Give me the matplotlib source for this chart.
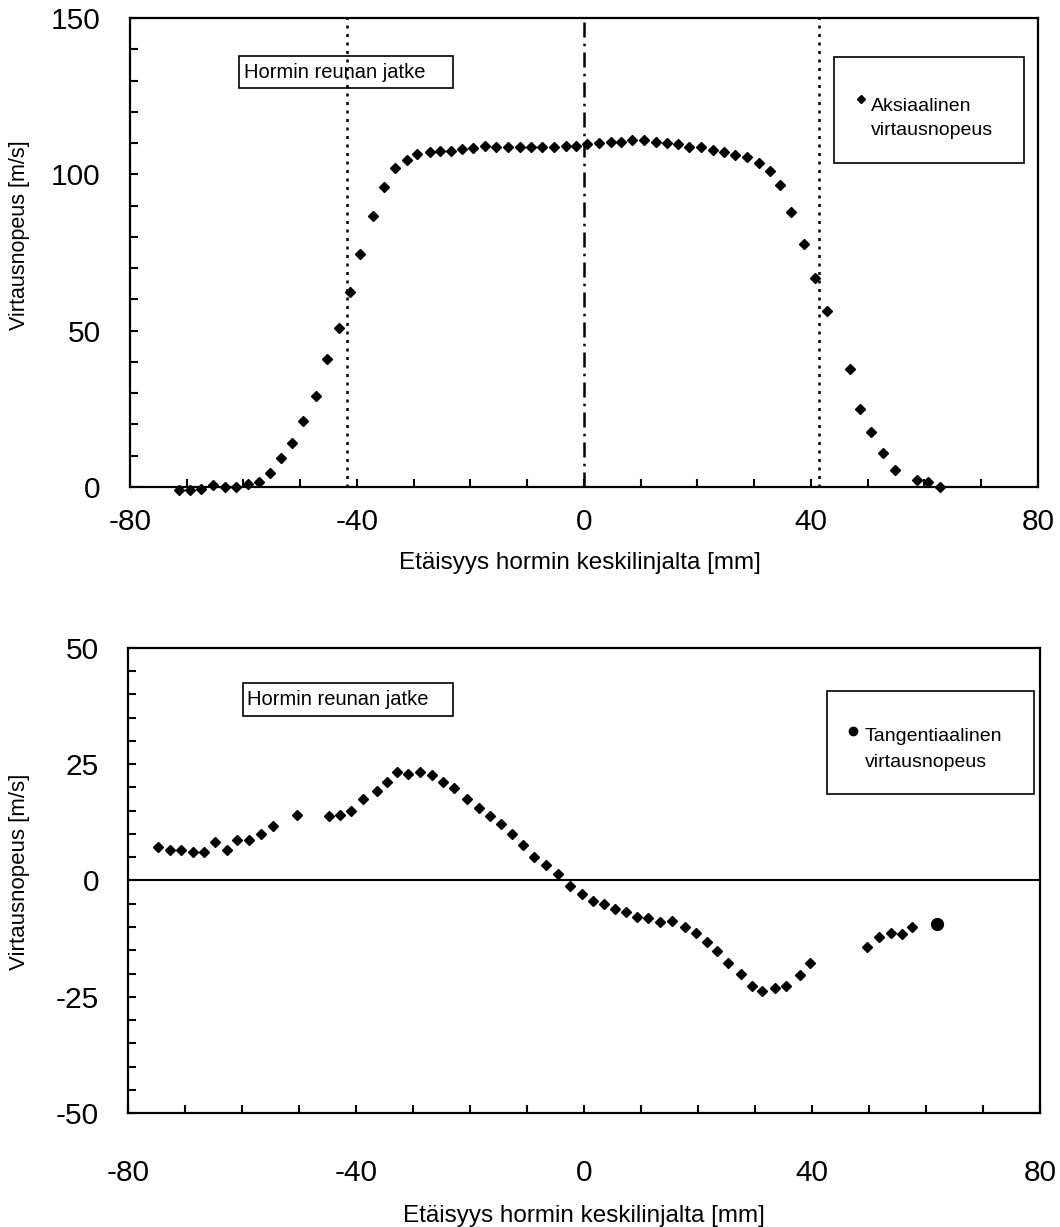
import numpy as np
import matplotlib
matplotlib.use("Agg")
import matplotlib.pyplot as plt
from matplotlib.patches import Rectangle
from matplotlib.lines import Line2D

plt.rcParams['font.family'] = ['Liberation Sans', 'DejaVu Sans']
plt.rcParams['axes.unicode_minus'] = False

# axial velocity profile
x_aks = [-71.3, -69.5, -67.4, -65.4, -63.3, -61.3, -59.2, -57.3, -55.3, -53.3,
         -51.5, -49.5, -47.3, -45.2, -43.1, -41.3, -39.4, -37.2, -35.3, -33.3,
         -31.2, -29.5, -27.1, -25.3, -23.4, -21.5, -19.6, -17.4, -15.5, -13.4,
         -11.3, -9.3, -7.4, -5.3, -3.2, -1.4, 0.6, 2.7, 4.75, 6.5,
         8.4, 10.6, 12.7, 14.7, 16.6, 18.5, 20.7, 22.7, 24.7, 26.6,
         28.8, 30.9, 32.7, 34.5, 36.4, 38.7, 40.7, 42.9, 46.9, 48.6,
         50.5, 52.7, 54.8, 58.7, 60.6, 62.7]
v_aks = [-1, -1, -0.5, 0.5, 0, 0, 1, 1.5, 4.6, 9.2,
         14.2, 21.2, 29.2, 41.1, 50.7, 62.4, 74.4, 86.7, 95.9, 102.1,
         104.6, 106.4, 107.1, 107.4, 107.4, 108, 108.4, 109, 108.8, 108.8,
         108.8, 108.8, 108.8, 108.8, 109.2, 109.2, 109.6, 110, 110.5, 110.5,
         110.9, 110.9, 110.5, 110.0, 109.8, 108.7, 108.8, 107.9, 107.1, 106.1,
         105.5, 103.6, 101.1, 96.7, 88.0, 77.6, 66.7, 56.3, 37.6, 24.8,
         17.5, 10.8, 5.4, 2.2, 1.5, 0.1]

# tangential velocity profile
x_tan = [-74.8, -72.7, -70.7, -68.6, -66.7, -64.7, -62.6, -60.8, -58.7, -56.6,
         -54.5, -50.4, -44.7, -42.9, -40.8, -38.7, -36.4, -34.6, -32.8, -30.8,
         -28.7, -26.6, -24.8, -22.9, -20.6, -18.5, -16.5, -14.6, -12.6, -10.7,
         -8.8, -6.7, -4.6, -2.5, -0.4, 1.5, 3.5, 5.5, 7.4, 9.3,
         11.3, 13.4, 15.4, 17.7, 19.6, 21.6, 23.4, 25.3, 27.5, 29.5,
         31.3, 33.5, 35.4, 37.8, 39.6, 49.6, 51.7, 53.8, 55.7, 57.6, 62.0]
v_tan = [7.2, 6.5, 6.6, 6.1, 6.1, 8.3, 6.5, 8.8, 8.8, 10.0,
         11.8, 14.1, 13.9, 14.1, 15.0, 17.5, 19.3, 21.1, 23.3, 22.9,
         23.3, 22.7, 21.1, 19.8, 17.5, 15.5, 13.9, 12.1, 9.9, 7.6,
         5.0, 3.4, 1.4, -1.1, -2.9, -4.5, -5.1, -6.1, -6.7, -7.9,
         -8.1, -8.9, -8.8, -10.0, -11.3, -13.2, -15.2, -17.7, -20.2, -22.7,
         -23.8, -23.2, -22.7, -20.4, -17.7, -14.2, -12.1, -11.2, -11.4, -10.0, -9.4]

reuna = [-41.7, 41.4]
xlab = "Etäisyys hormin keskilinjalta [mm]"
ylab = "Virtausnopeus [m/s]"


def style(ax, xpad, ypad):
    for s in ax.spines.values():
        s.set_linewidth(1.6)
    ax.set_xlim(-80, 80)
    ax.set_xticks([-80, -40, 0, 40, 80])
    ax.set_xticks(np.arange(-70, 80, 10), minor=True)
    ax.tick_params(which='both', direction='in', width=1.5, length=6,
                   labelsize=21.5, top=False, right=False)
    ax.tick_params(axis='x', which='major', pad=xpad)
    ax.tick_params(axis='y', which='major', pad=ypad)


def box(ax, x0, y0, x1, y1):
    ax.add_patch(Rectangle((x0, y0), x1 - x0, y1 - y0, transform=ax.transAxes,
                           fill=False, edgecolor='k', linewidth=1.2, clip_on=False))


fig = plt.figure(figsize=(10.6, 12.27), dpi=100)

# --- top: axial ---
ax1 = fig.add_axes([0.1226, 0.6031, 0.8566, 0.3822])
style(ax1, 15, 21)
ax1.set_ylim(0, 150)
ax1.set_yticks([0, 50, 100, 150])
ax1.set_yticks(np.arange(10, 150, 10), minor=True)
for xr in reuna:
    ax1.axvline(xr, color='k', lw=1.8, dashes=(1.2, 2.2))
ax1.axvline(0, color='k', lw=1.8, dashes=(6, 2.5, 1, 2.5))
ax1.plot(x_aks, v_aks, 'D', color='k', ms=5.5, clip_on=False, zorder=5)
ax1.set_xlabel(xlab, fontsize=17.5)
ax1.xaxis.set_label_coords(0.496, -0.139)
ax1.set_ylabel(ylab, fontsize=15.5)
ax1.yaxis.set_label_coords(-0.110, 0.537)

box(ax1, 0.120, 0.851, 0.356, 0.919)
ax1.text(0.1256, 0.884, "Hormin reunan jatke", transform=ax1.transAxes,
         fontsize=14.5, va='center', ha='left')
box(ax1, 0.775, 0.691, 0.985, 0.917)
ax1.add_line(Line2D([0.805], [0.827], marker='D', ms=4.5, color='k',
                    transform=ax1.transAxes))
ax1.text(0.816, 0.812, "Aksiaalinen", transform=ax1.transAxes,
         fontsize=14, va='center', ha='left')
ax1.text(0.816, 0.761, "virtausnopeus", transform=ax1.transAxes,
         fontsize=14, va='center', ha='left')

# --- bottom: tangential ---
ax2 = fig.add_axes([0.1208, 0.0929, 0.8604, 0.3790])
style(ax2, 33, 21)
ax2.set_ylim(-50, 50)
ax2.set_yticks([-50, -25, 0, 25, 50])
ax2.set_yticks(np.arange(-45, 50, 5), minor=True)
ax2.axhline(0, color='k', lw=1.5)
ax2.plot(x_tan[:-1], v_tan[:-1], 'D', color='k', ms=5.5, zorder=5)
ax2.plot(x_tan[-1:], v_tan[-1:], 'o', color='k', ms=8.5, zorder=5)
ax2.set_xlabel(xlab, fontsize=17.5)
ax2.xaxis.set_label_coords(0.5, -0.198)
ax2.set_ylabel(ylab, fontsize=16)
ax2.yaxis.set_label_coords(-0.107, 0.518)

box(ax2, 0.1258, 0.854, 0.3567, 0.925)
ax2.text(0.130, 0.890, "Hormin reunan jatke", transform=ax2.transAxes,
         fontsize=14.5, va='center', ha='left')
box(ax2, 0.766, 0.686, 0.993, 0.908)
ax2.add_line(Line2D([0.795], [0.822], marker='o', ms=6, color='k',
                    transform=ax2.transAxes))
ax2.text(0.808, 0.809, "Tangentiaalinen", transform=ax2.transAxes,
         fontsize=14, va='center', ha='left')
ax2.text(0.808, 0.753, "virtausnopeus", transform=ax2.transAxes,
         fontsize=14, va='center', ha='left')

fig.savefig("out.png", dpi=100)
